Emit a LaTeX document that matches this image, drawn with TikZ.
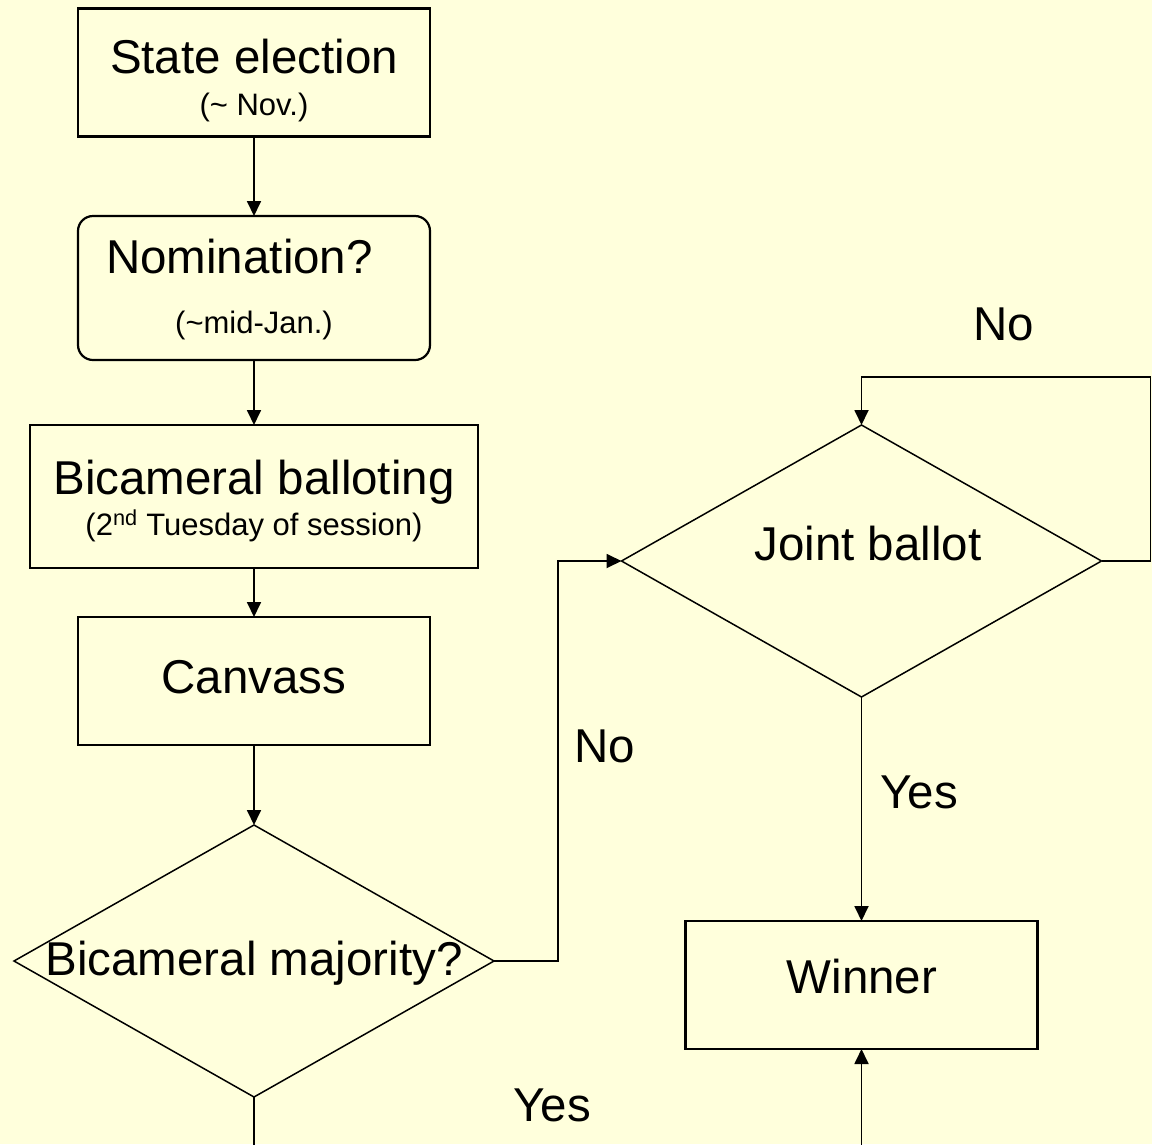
\documentclass[tikz,border=0pt]{standalone}
\usepackage{fontspec}
\setmainfont{Liberation Sans}
\usetikzlibrary{arrows.meta,shapes.geometric}
\definecolor{paper}{HTML}{FFFFDC}
\tikzset{
  stepbox/.style={draw,line width=2.2pt,minimum width=352pt,minimum height=128pt,inner sep=0pt,outer sep=0pt},
  choice/.style={draw,diamond,line width=1.5pt,minimum width=480pt,minimum height=272pt,inner sep=0pt,outer sep=0pt},
  big/.style={font=\fontsize{47.5}{56}\selectfont,inner sep=0pt,anchor=base},
  small/.style={font=\fontsize{31}{37}\selectfont,inner sep=0pt,anchor=base},
  conn/.style={line width=1.8pt,-{Triangle[length=15pt,width=14pt]}},
}
\begin{document}
\begin{tikzpicture}[x=1pt,y=-1pt]
\useasboundingbox (0,0) rectangle (1152,1144);
\fill[paper] (0,0) rectangle (1152,1144);
\clip (0,0) rectangle (1152,1144);
\node[stepbox] (election) at (254,72.5) {};
\node[stepbox,rounded corners=15pt,minimum height=144pt] (nomination) at (254,288) {};
\node[stepbox,minimum width=448pt,minimum height=143pt] (balloting) at (254,496.5) {};
\node[stepbox] (canvass) at (254,681) {};
\node[choice] (majority) at (254,961) {};
\node[choice] (joint) at (861.5,561) {};
\node[stepbox] (winner) at (861.5,985) {};
\node[big] (electionText) at (254,73) {State election};
\node[small] (electionDate) at (254,115) {(\char`~\ Nov.)};
\node[big] (nominationText) at (239.5,273) {Nomination?};
\node[small] (nominationDate) at (254,333) {(\char`~mid-Jan.)};
\node[big] (ballotingText) at (254,494) {Bicameral balloting};
\node[small] (ballotingDate) at (254,535) {(2\textsuperscript{nd} Tuesday of session)};
\node[big] (canvassText) at (254,693) {Canvass};
\node[big] (majorityText) at (254,975) {Bicameral majority?};
\node[big] (jointText) at (868,560) {Joint ballot};
\node[big] (winnerText) at (862,993) {Winner};
\node[big] (noLoop) at (1004,340) {No};
\node[big] (noMajority) at (605,762) {No};
\node[big] (yesJoint) at (919,808) {Yes};
\node[big] (yesMajority) at (552,1121) {Yes};
\draw[conn] (election) -- (nomination);
\draw[conn] (nomination) -- (balloting);
\draw[conn] (balloting) -- (canvass);
\draw[conn] (canvass) -- (majority);
\draw[conn] (majority.east) -- ++(64,0) |- (joint.west);
\draw[conn] (joint.east) -- ++(49,0) -- ++(0,-184) -| (joint.north);
\draw[conn] (joint.south) -- (winner.north);
\draw[conn] (majority.south) -- ++(0,120) -| (winner.south);
\end{tikzpicture}
\end{document}
